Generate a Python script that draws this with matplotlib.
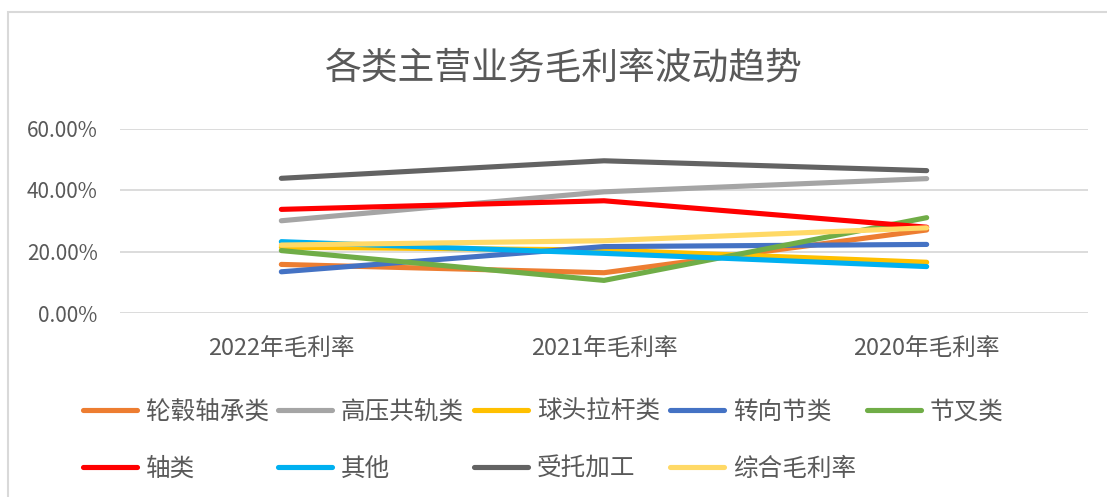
import matplotlib
matplotlib.use("Agg")
import matplotlib.pyplot as plt
from matplotlib.lines import Line2D
from matplotlib.patches import Rectangle
from matplotlib.ticker import PercentFormatter

plt.rcParams['font.family'] = ['Noto Sans CJK SC', 'DejaVu Sans']

categories = ["2022年毛利率", "2021年毛利率", "2020年毛利率"]
series_names = ["轮毂轴承类", "高压共轨类", "球头拉杆类", "转向节类", "节叉类",
                "轴类", "其他", "受托加工", "综合毛利率"]
lunggu = [15.8, 13.1, 27.0]
gaoya = [30.0, 39.4, 43.7]
qiutou = [21.4, 20.5, 16.5]
zhuanxiang = [13.4, 21.6, 22.3]
jiecha = [20.3, 10.6, 31.0]
zhoulei = [33.7, 36.5, 27.9]
qita = [23.2, 19.4, 15.1]
shoutuo = [43.8, 49.5, 46.3]
zonghe = [22.1, 23.5, 27.7]
series_values = [lunggu, gaoya, qiutou, zhuanxiang, jiecha, zhoulei, qita, shoutuo, zonghe]
colors = ["#ED7D31", "#A5A5A5", "#FFC000", "#4472C4", "#70AD47",
          "#FF0000", "#00B0F0", "#636363", "#FFD966"]
y_ticks = [0, 20, 40, 60]

W, H = 1107, 497
fig = plt.figure(figsize=(W / 100, H / 100), dpi=100)
ax = fig.add_axes([120 / W, 1 - 313 / H, (1088 - 120) / W, (313 - 128.5) / H])

x = list(range(len(categories)))
for name, vals, c in zip(series_names, series_values, colors):
    ax.plot(x, vals, color=c, lw=3.7, solid_capstyle='round',
            solid_joinstyle='round', label=name, zorder=3)

ax.set_xlim(-0.5, len(categories) - 0.5)
ax.set_ylim(0, 60)
ax.set_yticks(y_ticks)
ax.yaxis.set_major_formatter(PercentFormatter(decimals=2))
ax.set_xticks(x)
ax.set_xticklabels(categories)
ax.grid(axis='y', color='#D9D9D9', lw=1.3, zorder=0)
for s in ax.spines.values():
    s.set_visible(False)
ax.tick_params(axis='y', length=0, pad=16, labelsize=15, labelcolor='#595959')
ax.tick_params(axis='x', length=0, pad=17, labelsize=17, labelcolor='#595959')

fig.text(563.5 / W, 1 - 68 / H, "各类主营业务毛利率波动趋势", ha='center', va='center',
         fontsize=26.5, color='#595959')

# chart area border
fig.patches.append(Rectangle((8 / W, -0.1), 1.2, 1 - 12 / H + 0.1,
                             transform=fig.transFigure, fill=False,
                             edgecolor='#D9D9D9', lw=1.5))

# legend: 5 fixed-width columns, 2 rows
handles = [Line2D([], [], color=c, lw=3.7, solid_capstyle='round') for c in colors]
col_x = [83, 278, 474, 670, 867]
ncol = 5
for ci in range(ncol):
    idx = [i for i in range(len(series_names)) if i % ncol == ci]
    fig.legend([handles[i] for i in idx], [series_names[i] for i in idx],
               loc='upper left', bbox_to_anchor=(col_x[ci] / W, 1 - 399 / H),
               bbox_transform=fig.transFigure, frameon=False,
               fontsize=17.7, handlelength=2.2, handletextpad=0.35,
               borderpad=0, borderaxespad=0, labelspacing=1.25,
               labelcolor='#595959')

fig.savefig("out.png", dpi=100)
